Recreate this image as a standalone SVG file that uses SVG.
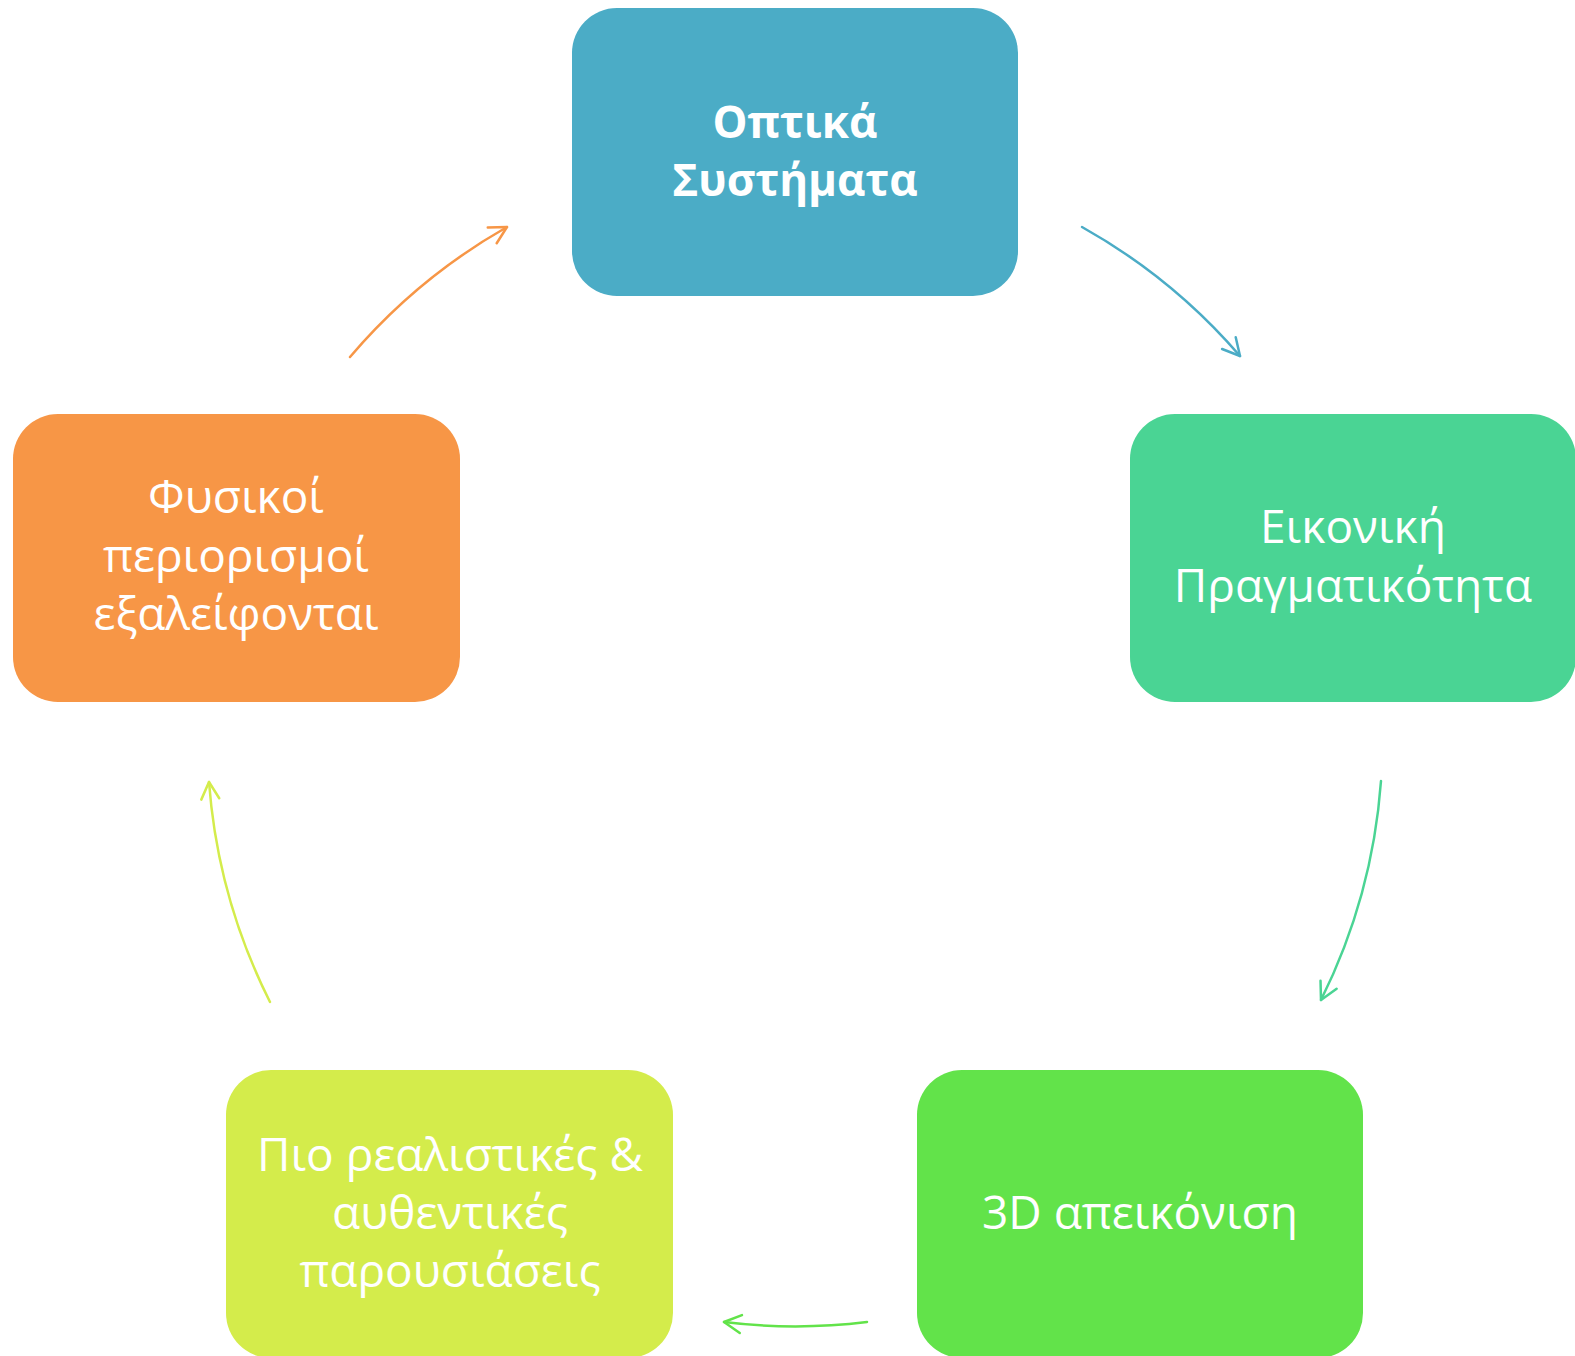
<svg xmlns="http://www.w3.org/2000/svg" width="1575" height="1356" viewBox="0 0 1575 1356">
  <style>
    .box { stroke: none; }
    .label { font-family: "Open Sans", "Noto Sans", sans-serif; font-size: 46px; fill: #FFFFFF; text-anchor: middle; }
    .bold { font-weight: bold; font-size: 44px; }
    .arc { fill: none; stroke-width: 2.5; stroke-linecap: round; }
    .head { fill: none; stroke-width: 2.5; stroke-linecap: round; stroke-linejoin: round; }
  </style>
  <defs>
    <marker id="m-blue" markerUnits="userSpaceOnUse" markerWidth="40" markerHeight="40" refX="0" refY="0" viewBox="-20 -20 40 40" orient="auto" overflow="visible">
      <path class="head" stroke="#4BACC6" d="M -17,-9 L 0,0 L -17,9"/>
    </marker>
    <marker id="m-teal" markerUnits="userSpaceOnUse" markerWidth="40" markerHeight="40" refX="0" refY="0" viewBox="-20 -20 40 40" orient="auto" overflow="visible">
      <path class="head" stroke="#4AD494" d="M -17,-9 L 0,0 L -17,9"/>
    </marker>
    <marker id="m-green" markerUnits="userSpaceOnUse" markerWidth="40" markerHeight="40" refX="0" refY="0" viewBox="-20 -20 40 40" orient="auto" overflow="visible">
      <path class="head" stroke="#62E34A" d="M -17,-9 L 0,0 L -17,9"/>
    </marker>
    <marker id="m-lime" markerUnits="userSpaceOnUse" markerWidth="40" markerHeight="40" refX="0" refY="0" viewBox="-20 -20 40 40" orient="auto" overflow="visible">
      <path class="head" stroke="#D4EC4B" d="M -17,-9 L 0,0 L -17,9"/>
    </marker>
    <marker id="m-orange" markerUnits="userSpaceOnUse" markerWidth="40" markerHeight="40" refX="0" refY="0" viewBox="-20 -20 40 40" orient="auto" overflow="visible">
      <path class="head" stroke="#F79646" d="M -17,-9 L 0,0 L -17,9"/>
    </marker>
  </defs>

  <rect width="1575" height="1356" fill="#FFFFFF"/>

  <!-- cycle arrows: arcs of one circle, centre (795,739), radius 587 -->
  <g id="connectors">
    <path class="arc" stroke="#4BACC6" marker-end="url(#m-blue)" d="M 1082,227 A 587,587 0 0 1 1240,356"/>
    <path class="arc" stroke="#4AD494" marker-end="url(#m-teal)" d="M 1381,781 A 587,587 0 0 1 1321,1000"/>
    <path class="arc" stroke="#62E34A" marker-end="url(#m-green)" d="M 867,1322 A 587,587 0 0 1 724,1322"/>
    <path class="arc" stroke="#D4EC4B" marker-end="url(#m-lime)" d="M 270,1002 A 587,587 0 0 1 209,782"/>
    <path class="arc" stroke="#F79646" marker-end="url(#m-orange)" d="M 350,357 A 587,587 0 0 1 507,227"/>
  </g>

  <g id="node-optika">
    <rect class="box" x="572" y="8" width="446" height="288" rx="45" fill="#4BACC6"/>
    <text class="label bold" x="795" y="138">Οπτικά</text>
    <text class="label bold" x="795" y="196">Συστήματα</text>
  </g>

  <g id="node-eikoniki">
    <rect class="box" x="1130" y="414" width="446" height="288" rx="45" fill="#4AD494"/>
    <text class="label" x="1353" y="543">Εικονική</text>
    <text class="label" x="1353" y="602">Πραγματικότητα</text>
  </g>

  <g id="node-3d">
    <rect class="box" x="917" y="1070" width="446" height="288" rx="45" fill="#62E34A"/>
    <text class="label" x="1140" y="1229">3D απεικόνιση</text>
  </g>

  <g id="node-parousiaseis">
    <rect class="box" x="226" y="1070" width="447" height="288" rx="45" fill="#D4EC4B"/>
    <text class="label" x="450" y="1171">Πιο ρεαλιστικές &amp;</text>
    <text class="label" x="450" y="1229">αυθεντικές</text>
    <text class="label" x="450" y="1287">παρουσιάσεις</text>
  </g>

  <g id="node-fysikoi">
    <rect class="box" x="13" y="414" width="447" height="288" rx="45" fill="#F79646"/>
    <text class="label" x="236" y="513">Φυσικοί</text>
    <text class="label" x="236" y="572">περιορισμοί</text>
    <text class="label" x="236" y="630">εξαλείφονται</text>
  </g>
</svg>
